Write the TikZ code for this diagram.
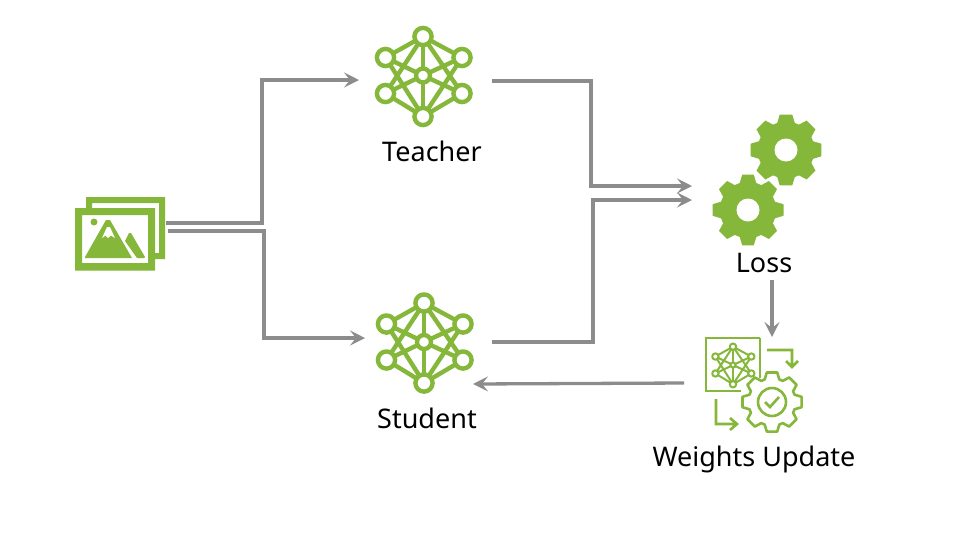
\documentclass[tikz,border=0pt]{standalone}
\usepackage{fontspec}
\setmainfont{Noto Sans}
\usetikzlibrary{arrows.meta}
\definecolor{ngreen}{HTML}{84B73A}
\definecolor{flow}{HTML}{8C8C8C}
\tikzset{
  flowline/.style={draw=flow,line width=3.3pt,-{Stealth[length=15pt,width=15pt,inset=6pt]}},
  lab/.style={font=\fontsize{27pt}{30pt}\selectfont,text=black,inner sep=0pt,anchor=center},
}
% network icon: #1 x, #2 y, #3 scale, #4 line width, #5 radius, #6 centre radius
\newcommand{\netIcon}[6]{%
\begin{scope}[shift={(#1,#2)},draw=ngreen,line width=#4,line join=round]
\coordinate (T) at (0,{-39*#3}); \coordinate (B) at (0,{41*#3});
\coordinate (UL) at ({-37.5*#3},{-18*#3}); \coordinate (UR) at ({39*#3},{-18*#3});
\coordinate (LL) at ({-37.5*#3},{18*#3}); \coordinate (LR) at ({39*#3},{18*#3});
\coordinate (C) at (0,0);
\foreach \p/\q in {T/UL,T/UR,T/LL,T/LR,T/C,B/LL,B/LR,B/UL,B/UR,B/C,UL/C,UR/C,LL/C,LR/C}{\draw (\p)--(\q);}
\foreach \p in {T,B,UL,UR,LL,LR}{\draw[fill=white] (\p) circle (#5);}
\draw[fill=white] (C) circle (#6);
\end{scope}}
% gear: #1 x, #2 y, #3 outer radius, #4 path options
\newcommand{\gearPath}[4]{%
\path[#4] ({#1+#3*cos(80)},{#2-#3*sin(80)})
\foreach \k in {0,45,...,315}{
 -- ({#1+#3*cos(\k+80)},{#2-#3*sin(\k+80)})
 -- ({#1+#3*cos(\k+100)},{#2-#3*sin(\k+100)})
 -- ({#1+0.79*#3*cos(\k+108)},{#2-0.79*#3*sin(\k+108)})
 -- ({#1+0.79*#3*cos(\k+117)},{#2-0.79*#3*sin(\k+117)})
 } -- cycle;}
\begin{document}
\begin{tikzpicture}[x=1pt,y=-1pt]
\useasboundingbox (0,0) rectangle (980,542);
% image icon
\fill[ngreen,even odd rule] (86,197) rectangle (165,259) (92,203) rectangle (159,253);
\fill[white] (75,208) rectangle (155,271);
\fill[ngreen,even odd rule] (75,208) rectangle (155,270.5) (82,215) rectangle (148,263);
\fill[ngreen] (94,222) circle (3.5);
\fill[ngreen] (85,257) -- (85,258) -- (132,258) -- (110,220) -- (106,220) -- cycle;
\fill[white] (102,238) -- (107,227) -- (110,227) -- (115,238) -- (111,235.5) -- (108,238) -- (105.5,235.5) -- cycle;
\fill[ngreen] (125,241) -- (129,233) -- (131,233) -- (145,257) -- (144,258) -- (137,258) -- cycle;
% networks
\netIcon{423}{75.5}{1}{4.4pt}{8.6pt}{7pt}
\netIcon{424}{342}{1}{4.4pt}{8.6pt}{7pt}
% gears
\gearPath{786}{150}{36}{fill=ngreen}
\fill[white] (786,150) circle (11.5);
\gearPath{748}{210}{36.8}{fill=ngreen,draw=white,line width=1.5pt}
\fill[white] (748,210) circle (11.5);
% weights icon
\draw[ngreen,line width=2.6pt] (760,338) -- (706,338) -- (706,391) -- (741,391);
\draw[ngreen,line width=2.6pt] (760,338) -- (760,378);
\netIcon{733}{365}{0.47}{2pt}{3.2pt}{2.6pt}
\draw[ngreen,line width=2.6pt] (767,350) -- (792,350) -- (792,367) (786,361) -- (792,367) -- (798,361);
\draw[ngreen,line width=2.6pt] (716,399) -- (716,424) -- (736,424) (730,418) -- (737,424) -- (730,430);
\gearPath{772}{402}{30}{draw=ngreen,fill=white,line width=2.6pt,line join=round}
\draw[ngreen,line width=2.6pt] (772,402) circle (14);
\draw[ngreen,line width=2.6pt] (765,402) -- (770,407) -- (779,397);
% labels
\node[lab] (teacher) at (432,151) {Teacher};
\node[lab] (student) at (427,418) {Student};
\node[lab] (loss) at (764,263) {Loss};
\node[lab] (weights) at (754,459.5) {Weights Update};
% connector ends
\coordinate (imgA) at (166,223);
\coordinate (imgB) at (168,231);
\coordinate (teachIn) at (359,80);
\coordinate (studIn) at (365,338);
\coordinate (teachOut) at (492,81);
\coordinate (studOut) at (492,342);
\coordinate (lossInA) at (692,186);
\coordinate (lossInB) at (692,200);
\coordinate (lossOut) at (772,280);
\coordinate (wTop) at (772,337);
\coordinate (wLeft) at (684,383);
\coordinate (studBack) at (473,384);
\draw[flowline] (imgA) -- (262,223) -- (262,80) -- (teachIn);
\draw[flowline] (imgB) -- (264,231) -- (264,338) -- (studIn);
\draw[flowline] (teachOut) -- (591,81) -- (591,186) -- (lossInA);
\draw[flowline] (studOut) -- (593,342) -- (593,200) -- (lossInB);
\draw[flowline] (lossOut) -- (wTop);
\draw[flowline] (wLeft) -- (studBack);
\end{tikzpicture}
\end{document}
